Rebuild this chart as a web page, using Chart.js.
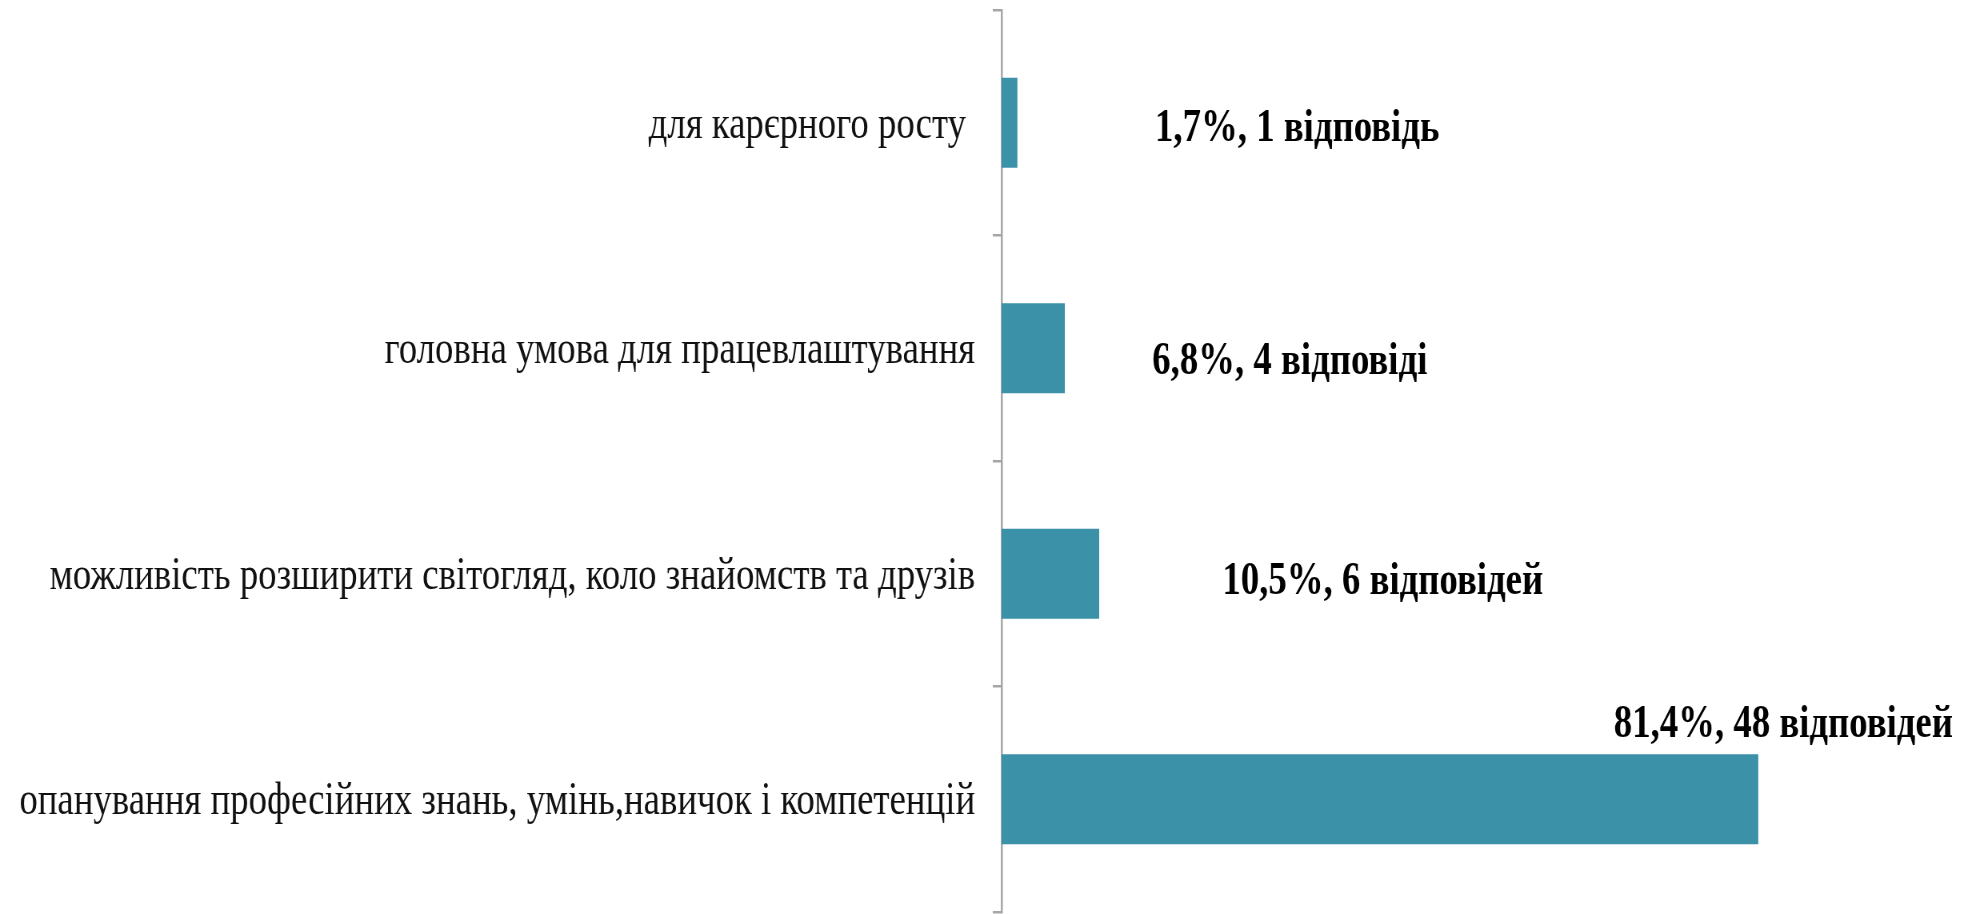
<!DOCTYPE html>
<html>
<head>
<meta charset="utf-8">
<script src="https://cdn.jsdelivr.net/npm/chart.js@4"></script>
<style>
  body { margin: 0; background: #fff; }
</style>
</head>
<body>
<!-- the canvas is drawn wider and squeezed back, the text in the original is condensed -->
<canvas id="myChart" width="2455" height="914" style="width:1964px;height:914px;display:block"></canvas>
<script>
const categories = [
    'для карєрного росту ',
    'головна умова для працевлаштування',
    'можливість розширити світогляд, коло знайомств та друзів',
    'опанування професійних знань, умінь,навичок і компетенцій'
];
const percents = [1.7, 6.8, 10.5, 81.4];
const answers = [1, 4, 6, 48];
const answerWords = ['відповідь', 'відповіді', 'відповідей', 'відповідей'];

// where the value labels sit (x in % units, y shift in px from bar centre)
const labelAtX = [31.8, 31.0, 41.0, 84.1];
const labelShiftY = [6, 14, 8, -74];

const barColor = '#3a91a8';
const axisColor = '#a6a6a6';

const valueLabels = {
    id: 'valueLabels',
    afterDatasetsDraw(chart) {
        const ctx = chart.ctx;
        const xScale = chart.scales.x;
        const meta = chart.getDatasetMeta(0);
        ctx.save();
        ctx.font = 'bold 46px "Liberation Serif"';
        ctx.fillStyle = '#000';
        ctx.textAlign = 'center';
        ctx.textBaseline = 'middle';
        meta.data.forEach((bar, i) => {
            const text = String(percents[i]).replace('.', ',') + '%, ' + answers[i] + ' ' + answerWords[i];
            ctx.fillText(text, xScale.getPixelForValue(labelAtX[i]), bar.y + labelShiftY[i]);
        });
        ctx.restore();
    }
};

const ctx = document.getElementById('myChart');

const myChart = new Chart(ctx, {
    type: 'bar',
    data: {
        labels: categories,
        datasets: [{
            data: percents,
            backgroundColor: barColor,
            borderWidth: 0,
            barPercentage: 0.4,
            categoryPercentage: 1
        }]
    },
    options: {
        indexAxis: 'y',
        responsive: false,
        devicePixelRatio: 1,
        animation: false,
        layout: {
            padding: { top: 10, bottom: 2, left: 0, right: 41 }
        },
        scales: {
            x: {
                display: false,
                min: 0,
                max: 100
            },
            y: {
                afterFit: (scale) => {
                    scale.width = 1252;
                    scale.paddingTop = 0;
                    scale.paddingBottom = 0;
                },
                grid: {
                    drawOnChartArea: false,
                    color: axisColor,
                    lineWidth: 2.5,
                    tickLength: 11
                },
                border: {
                    color: axisColor,
                    width: 2.5
                },
                ticks: {
                    autoSkip: false,
                    padding: 22,
                    labelOffset: 3,
                    color: '#111',
                    font: { family: '"Liberation Serif"', size: 46 }
                }
            }
        },
        plugins: {
            legend: { display: false },
            tooltip: { enabled: false }
        }
    },
    plugins: [valueLabels]
});
</script>
</body>
</html>
